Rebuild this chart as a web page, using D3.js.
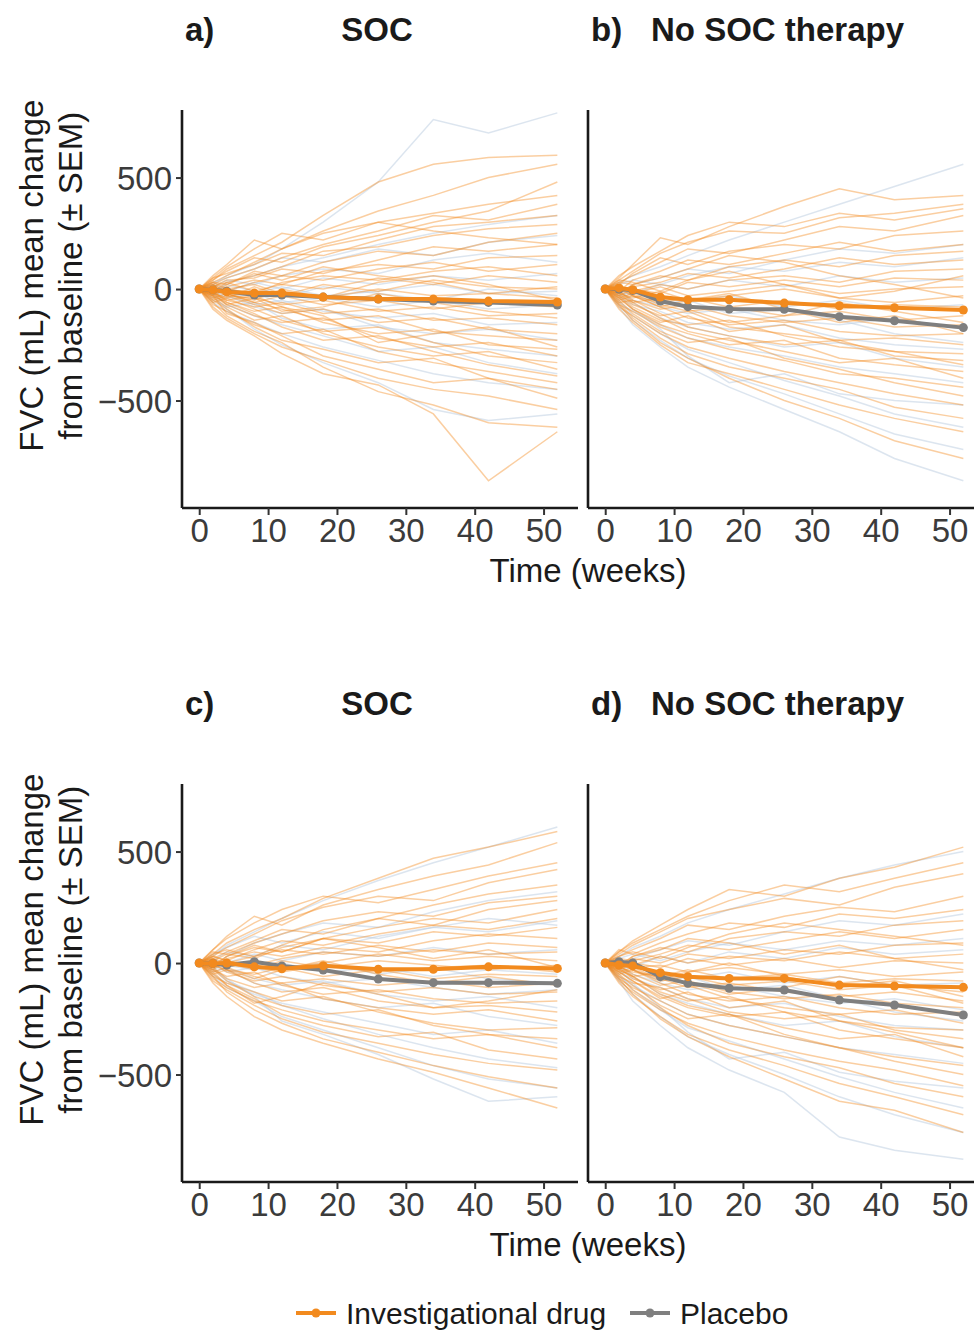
<!DOCTYPE html>
<html>
<head>
<meta charset="utf-8">
<script src="https://cdn.jsdelivr.net/npm/d3@7"></script>
<style>
  body { margin: 0; background: #fff; }
  text { font-family: "Liberation Sans", Arial, sans-serif; }
</style>
</head>
<body>
<div id="chart"></div>
<script>
// FVC change spaghetti plots, 4 panels

// visit times (weeks)
const times = [0, 2, 4, 8, 12, 18, 26, 34, 42, 52];
const xTicks = [0, 10, 20, 30, 40, 50];
const yTicks = [-500, 0, 500];

// mean lines
const meanDrugA = [0, -4, -13, -18, -18, -36, -45, -45, -54, -58];
const meanPlaceboA = [0, -4, -10, -27, -27, -36, -45, -54, -60, -72];
const meanDrugB = [0, 5, -3, -36, -48, -48, -63, -75, -84, -94];
const meanPlaceboB = [0, 0, -6, -54, -79, -90, -91, -124, -142, -173];
const meanDrugC = [0, -2, 0, -17, -26, -12, -28, -28, -17, -24];
const meanPlaceboC = [0, -2, -9, 6, -13, -31, -72, -88, -88, -91];
const meanDrugD = [0, -9, -13, -43, -61, -69, -69, -99, -103, -109];
const meanPlaceboD = [0, 6, 0, -61, -91, -113, -121, -166, -188, -233];

// individual subject trajectories (a selection, estimated by eye)
const subjDrugA = [
  [0, 40, 90, 150, 210, 330, 480, 560, 590, 600],
  [0, 30, 60, 120, 180, 260, 350, 420, 500, 560],
  [0, 60, 110, 220, 180, 250, 300, 340, 380, 420],
  [0, 20, 50, 90, 140, 200, 260, 330, 310, 380],
  [0, 50, 70, 110, 160, 150, 220, 280, 300, 330],
  [0, -10, 30, 60, 100, 170, 190, 240, 270, 290],
  [0, 30, 20, 80, 60, 120, 170, 150, 210, 250],
  [0, 10, 40, 50, 90, 70, 130, 190, 170, 200],
  [0, -20, 10, 40, 20, 80, 110, 90, 140, 150],
  [0, 20, -10, 30, 60, 40, 90, 120, 80, 110],
  [0, -30, 0, -20, 30, 60, 40, 80, 100, 60],
  [0, 10, 30, -10, 20, 0, 50, 20, 60, 30],
  [0, -20, -40, 10, -30, 20, -10, 40, 10, 0],
  [0, 30, 0, 20, -20, -40, 0, -30, -20, -40],
  [0, -40, -20, -60, -30, -70, -50, -90, -60, -80],
  [0, 0, -30, -40, -70, -50, -100, -80, -120, -110],
  [0, -10, -50, -80, -60, -110, -90, -140, -130, -160],
  [0, -50, -30, -70, -110, -90, -150, -130, -180, -200],
  [0, 20, -20, -60, -90, -140, -120, -190, -210, -230],
  [0, -30, -60, -100, -80, -150, -200, -180, -250, -270],
  [0, -20, -70, -120, -150, -130, -220, -260, -240, -300],
  [0, -60, -40, -90, -140, -190, -170, -240, -300, -330],
  [0, -40, -80, -140, -120, -200, -260, -300, -280, -360],
  [0, -10, -60, -110, -170, -230, -210, -280, -340, -390],
  [0, -70, -100, -160, -200, -180, -280, -330, -370, -420],
  [0, -50, -90, -170, -230, -270, -330, -310, -400, -450],
  [0, -30, -110, -150, -210, -300, -360, -420, -400, -490],
  [0, -80, -130, -200, -260, -320, -400, -450, -480, -540],
  [0, -60, -120, -190, -240, -350, -460, -520, -600, -620],
  [0, -90, -140, -210, -290, -380, -430, -560, -860, -640],
  [0, 40, 80, 140, 120, 190, 240, 300, 350, 480],
  [0, -20, 20, 70, 40, 100, 60, 30, -20, 10],
  [0, 10, -20, -50, 0, -40, 30, 60, 20, -50],
  [0, -30, -70, -40, -100, -80, -20, -60, -100, -130],
  [0, 50, 100, 180, 250, 220, 300, 260, 230, 200],
  [0, -20, -50, -30, -80, -120, -240, -200, -170, -260]
];
const subjPlaceboA = [
  [0, 20, 60, 110, 180, 300, 480, 760, 700, 790],
  [0, -20, 30, 60, 100, 140, 200, 250, 290, 330],
  [0, 10, 40, 20, 60, 90, 70, 130, 160, 120],
  [0, -30, -10, 30, 0, 50, 20, 60, 40, 70],
  [0, 20, 0, -20, 10, -30, -10, 20, -20, -10],
  [0, -10, -40, -20, -60, -40, -80, -50, -90, -70],
  [0, -40, -20, -70, -50, -100, -130, -110, -160, -150],
  [0, 10, -30, -80, -110, -90, -170, -200, -180, -230],
  [0, -50, -80, -60, -130, -180, -160, -240, -270, -300],
  [0, -20, -70, -120, -160, -210, -280, -260, -330, -380],
  [0, -60, -100, -150, -200, -260, -320, -380, -420, -450],
  [0, -30, -90, -180, -250, -330, -420, -540, -590, -560],
  [0, 30, 50, 90, 140, 120, 180, 150, 210, 240],
  [0, -10, 20, -10, -40, 10, -20, -50, 0, -30]
];
const subjDrugB = [
  [0, 50, 110, 230, 200, 280, 370, 450, 400, 420],
  [0, 40, 80, 160, 210, 260, 250, 320, 340, 380],
  [0, 30, 60, 120, 180, 160, 220, 280, 260, 330],
  [0, 20, 70, 140, 110, 170, 200, 180, 240, 260],
  [0, -10, 40, 80, 130, 110, 160, 210, 170, 200],
  [0, 30, 20, 60, 40, 100, 130, 100, 150, 170],
  [0, -20, 10, 30, 70, 50, 90, 140, 110, 130],
  [0, 10, -10, 20, 0, 40, 60, 30, 80, 90],
  [0, -30, 0, -20, 30, 10, 40, 10, 50, 40],
  [0, 20, -20, 10, -30, -10, 20, -20, 0, 10],
  [0, -20, -40, -10, -50, -30, 0, -40, -60, -30],
  [0, 0, -30, -60, -40, -80, -50, -90, -70, -80],
  [0, -40, -20, -70, -100, -80, -120, -100, -140, -120],
  [0, -10, -50, -90, -70, -120, -150, -130, -170, -160],
  [0, -50, -30, -80, -130, -160, -140, -190, -210, -200],
  [0, -20, -70, -120, -100, -170, -200, -230, -220, -250],
  [0, -30, -80, -140, -160, -140, -210, -260, -280, -290],
  [0, -60, -50, -110, -170, -210, -250, -230, -300, -320],
  [0, -40, -90, -160, -200, -250, -230, -310, -340, -370],
  [0, -10, -60, -130, -190, -230, -280, -330, -310, -400],
  [0, -70, -100, -170, -220, -270, -320, -380, -400, -440],
  [0, -50, -110, -190, -240, -220, -310, -360, -420, -480],
  [0, -80, -120, -200, -260, -310, -370, -420, -470, -520],
  [0, -60, -130, -220, -290, -350, -400, -450, -530, -580],
  [0, -90, -150, -250, -330, -380, -450, -520, -580, -640],
  [0, -70, -140, -240, -310, -400, -500, -580, -680, -760],
  [0, 60, 100, 170, 240, 300, 280, 340, 310, 360],
  [0, -20, 20, 50, 90, 150, 120, 60, 20, -40],
  [0, 10, -30, -80, -50, -20, -90, -150, -120, -200],
  [0, -30, -60, -40, -90, -150, -120, -60, -100, -150],
  [0, 40, 30, -10, 40, 80, 20, -40, -10, 60],
  [0, -40, -90, -150, -120, -190, -160, -240, -280, -340]
];
const subjPlaceboB = [
  [0, 30, 60, 100, 150, 220, 300, 380, 460, 560],
  [0, -20, 20, 50, 90, 70, 130, 180, 160, 200],
  [0, 10, -20, 20, 0, 40, 10, 60, 30, 50],
  [0, -30, -10, -40, -60, -30, -80, -50, -90, -70],
  [0, -10, -50, -80, -110, -90, -140, -160, -130, -180],
  [0, -40, -70, -100, -150, -180, -160, -220, -250, -270],
  [0, -20, -60, -130, -170, -210, -260, -240, -310, -350],
  [0, -60, -100, -160, -220, -260, -300, -350, -380, -420],
  [0, -30, -90, -180, -300, -420, -380, -470, -500, -520],
  [0, -50, -120, -200, -270, -330, -410, -480, -560, -620],
  [0, -70, -140, -230, -310, -390, -470, -560, -650, -720],
  [0, -80, -160, -260, -350, -440, -540, -640, -760, -860],
  [0, 20, 40, 20, 60, 100, 80, 120, 100, 140],
  [0, -10, -30, -70, -50, -110, -90, -140, -200, -240]
];
const subjDrugC = [
  [0, 40, 90, 150, 200, 290, 380, 470, 520, 590],
  [0, 60, 120, 210, 170, 260, 330, 390, 440, 540],
  [0, 30, 70, 130, 190, 250, 300, 280, 360, 420],
  [0, 20, 50, 100, 150, 130, 200, 260, 310, 350],
  [0, 50, 40, 90, 130, 190, 230, 210, 270, 300],
  [0, -10, 30, 70, 50, 110, 160, 200, 180, 240],
  [0, 30, 10, 60, 100, 80, 130, 170, 150, 200],
  [0, 10, 40, 20, 70, 110, 90, 140, 120, 160],
  [0, -20, 20, 50, 30, 70, 50, 100, 130, 110],
  [0, 20, 0, 30, 60, 40, 80, 50, 90, 70],
  [0, -30, 10, -10, 20, 50, 30, 60, 40, 50],
  [0, 10, -20, 10, -20, 0, 40, 10, 30, 10],
  [0, -20, 0, -30, 10, -20, 10, -10, -30, -10],
  [0, 30, 10, -20, -40, -10, -40, -20, -10, -40],
  [0, -10, -30, -50, -20, -60, -30, -70, -50, -60],
  [0, -40, -20, -60, -90, -70, -100, -80, -110, -90],
  [0, 0, -40, -80, -60, -100, -130, -110, -140, -130],
  [0, -30, -60, -40, -100, -140, -120, -160, -180, -170],
  [0, -50, -30, -90, -130, -110, -170, -200, -190, -220],
  [0, -20, -70, -110, -90, -160, -200, -230, -210, -260],
  [0, -60, -90, -130, -170, -150, -220, -270, -300, -290],
  [0, -30, -80, -150, -190, -230, -210, -280, -320, -340],
  [0, -70, -110, -170, -210, -260, -300, -340, -320, -380],
  [0, -40, -100, -160, -230, -280, -330, -310, -390, -430],
  [0, -80, -120, -190, -250, -310, -360, -410, -450, -480],
  [0, -60, -130, -210, -270, -340, -400, -460, -510, -560],
  [0, -90, -150, -240, -300, -360, -430, -490, -560, -650],
  [0, 60, 110, 180, 240, 300, 270, 330, 390, 450],
  [0, -20, 30, 80, 50, 110, 70, 20, 60, -20],
  [0, 20, -30, -70, -30, 10, -50, -90, -60, -100],
  [0, -50, -100, -180, -150, -90, -140, -200, -170, -120],
  [0, 40, 60, 30, 80, 150, 200, 170, 240, 280]
];
const subjPlaceboC = [
  [0, 30, 80, 140, 200, 280, 370, 450, 520, 610],
  [0, -20, 30, 90, 130, 180, 160, 230, 280, 320],
  [0, 10, 50, 30, 80, 60, 120, 160, 140, 190],
  [0, -30, 0, 40, 10, 50, 30, 70, 40, 60],
  [0, 20, -10, -30, 0, -40, -20, -60, -30, -50],
  [0, -10, -40, -20, -60, -90, -70, -110, -140, -120],
  [0, -40, -20, -70, -100, -80, -140, -170, -150, -200],
  [0, 10, -30, -90, -120, -160, -200, -180, -240, -280],
  [0, -50, -90, -140, -180, -220, -270, -320, -300, -360],
  [0, -20, -80, -130, -190, -250, -320, -380, -430, -470],
  [0, -60, -110, -170, -240, -300, -380, -460, -520, -560],
  [0, -30, -70, -150, -260, -320, -410, -520, -620, -600],
  [0, 40, 70, 120, 90, 140, 110, 160, 200, 170],
  [0, 0, -20, 10, -30, 0, -50, -20, -70, -90]
];
const subjDrugD = [
  [0, 50, 100, 170, 240, 330, 300, 380, 430, 520],
  [0, 40, 80, 140, 200, 240, 290, 260, 340, 400],
  [0, 30, 60, 110, 170, 150, 210, 250, 230, 300],
  [0, 60, 40, 90, 130, 180, 160, 220, 200, 240],
  [0, -10, 30, 70, 50, 110, 140, 120, 170, 190],
  [0, 20, 10, 40, 80, 60, 100, 140, 110, 150],
  [0, -20, 20, 0, 40, 20, 60, 40, 80, 90],
  [0, 10, -10, 30, 0, 30, 10, 50, 20, 40],
  [0, -30, 0, -20, 20, -10, 20, -20, 10, 0],
  [0, 20, -20, -10, -40, -20, -50, -30, -60, -40],
  [0, -20, -40, -60, -30, -70, -50, -90, -70, -80],
  [0, 0, -30, -80, -60, -100, -80, -120, -100, -130],
  [0, -40, -20, -70, -110, -90, -130, -150, -130, -170],
  [0, -10, -50, -100, -80, -130, -160, -140, -180, -200],
  [0, -50, -30, -90, -140, -170, -150, -200, -230, -220],
  [0, -20, -70, -120, -100, -160, -200, -230, -210, -270],
  [0, -30, -60, -130, -170, -150, -220, -260, -290, -300],
  [0, -60, -90, -110, -160, -220, -250, -230, -300, -340],
  [0, -40, -80, -150, -200, -240, -220, -300, -340, -380],
  [0, -10, -60, -140, -190, -230, -290, -340, -320, -420],
  [0, -70, -110, -170, -230, -280, -330, -380, -420, -460],
  [0, -50, -100, -190, -250, -230, -320, -380, -440, -500],
  [0, -80, -130, -210, -270, -330, -390, -440, -480, -550],
  [0, -60, -120, -200, -280, -360, -420, -470, -540, -600],
  [0, -90, -150, -240, -320, -390, -460, -540, -600, -680],
  [0, -70, -140, -250, -330, -420, -520, -620, -660, -760],
  [0, 50, 90, 150, 210, 280, 350, 320, 380, 450],
  [0, -20, 30, 60, 110, 90, 40, 80, 20, -30],
  [0, 10, -30, -70, -40, 0, -60, -110, -80, -150],
  [0, -30, -60, -40, -90, -140, -110, -60, -100, -180],
  [0, 30, 50, 20, 70, 130, 180, 150, 120, 80],
  [0, -40, -80, -160, -130, -200, -170, -260, -310, -380]
];
const subjPlaceboD = [
  [0, 30, 70, 120, 180, 240, 310, 380, 440, 500],
  [0, -20, 20, 60, 100, 80, 140, 190, 170, 220],
  [0, 10, -20, 30, 0, 50, 20, 70, 40, 60],
  [0, -30, -10, -50, -70, -40, -90, -60, -100, -90],
  [0, -10, -50, -90, -120, -100, -150, -180, -160, -210],
  [0, -40, -70, -110, -160, -200, -180, -240, -280, -300],
  [0, -20, -60, -140, -180, -230, -280, -260, -330, -380],
  [0, -60, -100, -170, -230, -280, -330, -380, -410, -450],
  [0, -30, -90, -200, -310, -430, -400, -490, -530, -560],
  [0, -50, -120, -210, -290, -350, -430, -510, -580, -650],
  [0, -70, -140, -240, -330, -410, -500, -600, -680, -760],
  [0, -80, -170, -280, -380, -480, -580, -780, -840, -880],
  [0, 20, 40, 10, 50, 90, 60, 100, 80, 110],
  [0, -10, -30, -80, -60, -120, -100, -160, -220, -260]
];

const drugColor = "#f28a1e";
const placeboColor = "#7f7f7f";
const subjBlue = "#b9cce0";

const W = 974, H = 1330;

const panels = [
  { label: "a)", title: "SOC", left: 182, top: 110, drug: subjDrugA, plc: subjPlaceboA, mDrug: meanDrugA, mPlc: meanPlaceboA, yLabels: true },
  { label: "b)", title: "No SOC therapy", left: 588, top: 110, drug: subjDrugB, plc: subjPlaceboB, mDrug: meanDrugB, mPlc: meanPlaceboB, yLabels: false },
  { label: "c)", title: "SOC", left: 182, top: 784, drug: subjDrugC, plc: subjPlaceboC, mDrug: meanDrugC, mPlc: meanPlaceboC, yLabels: true },
  { label: "d)", title: "No SOC therapy", left: 588, top: 784, drug: subjDrugD, plc: subjPlaceboD, mDrug: meanDrugD, mPlc: meanPlaceboD, yLabels: false }
];

const pw = 396, ph = 398;

const svg = d3.select("#chart").append("svg")
  .attr("width", W)
  .attr("height", H);

panels.forEach(function(p) {
  let x = d3.scaleLinear().domain([-2.5, 55]).range([p.left, p.left + pw]);
  let y = d3.scaleLinear().domain([-982, 803]).range([p.top + ph, p.top]);

  let line = d3.line()
    .x(function(d, i) { return x(times[i]); })
    .y(function(d) { return y(d); });

  let g = svg.append("g");

  // faint subject lines: placebo underneath, drug on top
  g.selectAll("path.plc").data(p.plc).enter().append("path")
    .attr("d", line)
    .attr("fill", "none")
    .attr("stroke", subjBlue)
    .attr("stroke-opacity", 0.5)
    .attr("stroke-width", 1.5);

  g.selectAll("path.drug").data(p.drug).enter().append("path")
    .attr("d", line)
    .attr("fill", "none")
    .attr("stroke", drugColor)
    .attr("stroke-opacity", 0.42)
    .attr("stroke-width", 1.5);

  // mean lines
  [[p.mPlc, placeboColor], [p.mDrug, drugColor]].forEach(function(s) {
    g.append("path")
      .attr("d", line(s[0]))
      .attr("fill", "none")
      .attr("stroke", s[1])
      .attr("stroke-width", 4);
    g.selectAll(null).data(s[0]).enter().append("circle")
      .attr("cx", function(d, i) { return x(times[i]); })
      .attr("cy", function(d) { return y(d); })
      .attr("r", 4.5)
      .attr("fill", s[1]);
  });

  // axes
  let xAxis = d3.axisBottom(x).tickValues(xTicks).tickSize(7).tickPadding(3);
  let gx = svg.append("g")
    .attr("transform", "translate(0," + (p.top + ph) + ")")
    .call(xAxis);
  gx.select(".domain").attr("d", "M" + p.left + ",0H" + (p.left + pw));

  let yAxis = d3.axisLeft(y).tickValues(p.yLabels ? yTicks : []).tickSize(6).tickPadding(4)
    .tickFormat(function(d) { return d < 0 ? "\u2212" + Math.abs(d) : d; });
  let gy = svg.append("g")
    .attr("transform", "translate(" + p.left + ",0)")
    .call(yAxis);
  gy.select(".domain").attr("d", "M0," + p.top + "V" + (p.top + ph));

  [gx, gy].forEach(function(a) {
    a.select(".domain").attr("stroke", "#1a1a1a").attr("stroke-width", 2.6);
    a.selectAll(".tick line").attr("stroke", "#333").attr("stroke-width", 2);
    a.selectAll(".tick text")
      .attr("fill", "#3b3b3b")
      .style("font-size", "33px")
      .style("font-family", "'Liberation Sans', Arial, sans-serif");
  });
  gx.selectAll(".tick text").attr("dy", "0.72em");
  gy.selectAll(".tick text").attr("dy", "0.36em");

  // panel titles
  svg.append("text")
    .attr("x", p.left + 3)
    .attr("y", p.top - 69)
    .attr("font-size", 33)
    .attr("font-weight", "bold")
    .attr("fill", "#1a1a1a")
    .text(p.label);
  if (p.title === "SOC") {
    svg.append("text")
      .attr("x", p.left + 195)
      .attr("y", p.top - 69)
      .attr("text-anchor", "middle")
      .attr("font-size", 33)
      .attr("font-weight", "bold")
      .attr("fill", "#1a1a1a")
      .text(p.title);
  } else {
    svg.append("text")
      .attr("x", p.left + 63)
      .attr("y", p.top - 69)
      .attr("font-size", 33)
      .attr("font-weight", "bold")
      .attr("fill", "#1a1a1a")
      .text(p.title);
  }

  // y title, only on left panels
  if (p.yLabels) {
    let cy = y(60);
    ["FVC (mL) mean change", "from baseline (\u00b1 SEM)"].forEach(function(t, i) {
      svg.append("text")
        .attr("transform", "translate(" + (43 + i * 39) + "," + cy + ") rotate(-90)")
        .attr("text-anchor", "middle")
        .attr("font-size", 33)
        .attr("fill", "#1a1a1a")
        .text(t);
    });
  }
});

// x titles
[110, 784].forEach(function(top) {
  svg.append("text")
    .attr("x", 588)
    .attr("y", top + ph + 74)
    .attr("text-anchor", "middle")
    .attr("font-size", 33)
    .attr("fill", "#1a1a1a")
    .text("Time (weeks)");
});

// legend
let legend = svg.append("g").attr("transform", "translate(0,1313)");
[["Investigational drug", drugColor, 296], ["Placebo", placeboColor, 630]].forEach(function(l) {
  legend.append("line")
    .attr("x1", l[2]).attr("x2", l[2] + 40)
    .attr("stroke", l[1]).attr("stroke-width", 4);
  legend.append("circle")
    .attr("cx", l[2] + 20).attr("r", 4.5).attr("fill", l[1]);
  legend.append("text")
    .attr("x", l[2] + 50)
    .attr("dy", "0.36em")
    .attr("font-size", 30)
    .attr("fill", "#1a1a1a")
    .text(l[0]);
});
</script>
</body>
</html>
